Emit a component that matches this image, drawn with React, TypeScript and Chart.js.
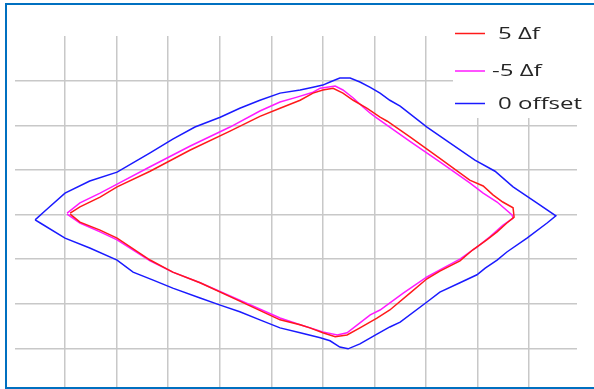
import React, { useEffect, useRef } from "react";
import { Chart, registerables } from "chart.js";

Chart.register(...registerables);

// Series labels and colours
const seriesLabels = ["5 Δf", "-5 Δf", "0 offset"];
const seriesColors = ["#ff1a1a", "#ff1aff", "#1a1aff"];

// Grid tick positions (grid units)
const xTicks = [0, 1, 2, 3, 4, 5, 6, 7, 8, 9];
const yTicks = [-3, -2, -1, 0, 1, 2, 3];

// 5 Δf (red)
const redX = [0.10, 0.29, 0.68, 1.01, 1.65, 2.42, 3.20, 3.78, 4.17, 4.56, 4.81, 5.00, 5.20, 5.39, 5.59, 5.86, 6.11, 6.25, 6.69, 7.27, 7.85, 8.11, 8.30, 8.49, 8.69, 8.71, 8.57, 8.38, 8.18, 7.91, 7.66, 7.27, 7.02, 6.69, 6.30, 6.05, 5.72, 5.47, 5.24, 5.00, 4.75, 4.56, 4.17, 3.39, 2.62, 2.09, 1.65, 1.01, 0.68, 0.29, 0.10];
const redY = [0.03, 0.17, 0.39, 0.62, 0.97, 1.44, 1.87, 2.20, 2.38, 2.56, 2.72, 2.79, 2.83, 2.72, 2.56, 2.38, 2.18, 2.09, 1.74, 1.26, 0.77, 0.64, 0.44, 0.28, 0.15, -0.06, -0.19, -0.39, -0.57, -0.79, -1.04, -1.27, -1.44, -1.76, -2.14, -2.32, -2.54, -2.70, -2.74, -2.65, -2.54, -2.47, -2.36, -1.94, -1.53, -1.29, -1.02, -0.53, -0.35, -0.17, 0.01];

// -5 Δf (magenta)
const magentaX = [0.04, 0.29, 0.68, 1.01, 1.65, 2.42, 3.20, 3.78, 4.17, 4.50, 4.81, 4.95, 5.24, 5.39, 5.59, 5.78, 5.92, 6.05, 6.69, 7.27, 7.85, 8.11, 8.38, 8.67, 8.69, 8.49, 8.24, 7.99, 7.85, 7.66, 7.27, 7.02, 6.56, 6.11, 5.92, 5.72, 5.47, 5.28, 5.00, 4.56, 4.17, 3.39, 2.62, 2.09, 1.65, 1.01, 0.68, 0.29, 0.04];
const magentaY = [0.03, 0.26, 0.48, 0.68, 1.07, 1.53, 1.96, 2.32, 2.52, 2.63, 2.74, 2.83, 2.88, 2.79, 2.61, 2.41, 2.27, 2.16, 1.64, 1.18, 0.71, 0.48, 0.28, -0.01, -0.08, -0.24, -0.50, -0.73, -0.84, -1.00, -1.24, -1.40, -1.76, -2.14, -2.25, -2.43, -2.65, -2.70, -2.63, -2.47, -2.32, -1.92, -1.53, -1.29, -1.04, -0.57, -0.39, -0.19, 0.01];

// 0 offset (blue)
const blueX = [-0.58, -0.39, 0.00, 0.48, 1.01, 1.65, 2.09, 2.52, 3.01, 3.39, 3.78, 4.17, 4.56, 4.81, 5.00, 5.14, 5.33, 5.53, 5.72, 5.92, 6.11, 6.30, 6.50, 7.02, 7.47, 7.95, 8.34, 8.69, 9.15, 9.52, 9.35, 8.96, 8.57, 8.38, 8.15, 7.99, 7.66, 7.27, 7.02, 6.50, 6.30, 6.05, 5.72, 5.49, 5.33, 5.14, 4.95, 4.56, 4.17, 3.78, 3.39, 3.01, 2.62, 2.09, 1.71, 1.32, 1.01, 0.48, 0.00, -0.48, -0.58];
const blueY = [-0.12, 0.08, 0.48, 0.75, 0.95, 1.38, 1.69, 1.96, 2.18, 2.38, 2.56, 2.72, 2.79, 2.85, 2.90, 2.97, 3.06, 3.06, 2.97, 2.85, 2.72, 2.56, 2.43, 1.96, 1.60, 1.22, 0.97, 0.62, 0.26, -0.03, -0.19, -0.53, -0.84, -1.02, -1.20, -1.35, -1.53, -1.74, -1.96, -2.41, -2.52, -2.68, -2.90, -3.01, -2.97, -2.83, -2.76, -2.65, -2.54, -2.36, -2.18, -2.03, -1.87, -1.65, -1.47, -1.29, -1.02, -0.75, -0.53, -0.19, -0.12];

const seriesX = [redX, magentaX, blueX];
const seriesY = [redY, magentaY, blueY];

const legendPlugin = {
  id: "boxLegend",
  afterDraw(chart: any) {
    const ctx = chart.ctx;
    ctx.save();
    ctx.fillStyle = "#ffffff";
    ctx.fillRect(453, 34, 141, 84);
    const rowsY = [33.5, 71, 103.5];
    const sx = 1.5;
    ctx.font = "16px 'Open Sans'";
    ctx.textBaseline = "middle";
    ctx.textAlign = "left";
    chart.data.datasets.forEach((ds: any, i: number) => {
      const y = rowsY[i];
      ctx.strokeStyle = ds.borderColor;
      ctx.lineWidth = 1.5;
      ctx.beginPath();
      ctx.moveTo(455, y);
      ctx.lineTo(485, y);
      ctx.stroke();
      const label: string = ds.label;
      const tx = label.startsWith("-") ? 492 : 498;
      ctx.save();
      ctx.translate(tx, y + 0.5);
      ctx.scale(sx, 1);
      ctx.fillStyle = "#262626";
      ctx.fillText(label, 0, 0);
      ctx.restore();
    });
    ctx.restore();
  },
};

export default function App() {
  const canvasRef = useRef<HTMLCanvasElement | null>(null);

  useEffect(() => {
    const canvas = canvasRef.current;
    if (!canvas) return;
    const datasets = seriesLabels.map((label, i) => ({
      label,
      data: seriesX[i].map((x, j) => ({ x, y: seriesY[i][j] })),
      borderColor: seriesColors[i],
      backgroundColor: seriesColors[i],
      borderWidth: 1.5,
      showLine: true,
      fill: false,
      tension: 0,
      pointRadius: 0,
      pointHoverRadius: 0,
    }));
    const chart = new Chart(canvas, {
      type: "scatter",
      data: { datasets },
      options: {
        animation: false,
        responsive: false,
        devicePixelRatio: 1,
        layout: { padding: { left: 15, right: 17, top: 36, bottom: 0 } },
        plugins: { legend: { display: false }, tooltip: { enabled: false } },
        scales: {
          x: {
            type: "linear",
            min: -0.97,
            max: 9.93,
            afterBuildTicks: (scale: any) => {
              scale.ticks = xTicks.map((v) => ({ value: v }));
            },
            ticks: { display: false },
            border: { display: false },
            grid: { color: "#c8c8c8", lineWidth: 1.5, drawTicks: false },
          },
          y: {
            type: "linear",
            min: -3.91,
            max: 4.0,
            afterBuildTicks: (scale: any) => {
              scale.ticks = yTicks.map((v) => ({ value: v }));
            },
            ticks: { display: false },
            border: { display: false },
            grid: { color: "#c8c8c8", lineWidth: 1.5, drawTicks: false },
          },
        },
      },
      plugins: [legendPlugin],
    });
    return () => chart.destroy();
  }, []);

  return (
    <div
      style={{
        position: "fixed",
        left: 0,
        top: 0,
        width: 594,
        height: 389,
        overflow: "hidden",
        background: "#ffffff",
      }}
    >
      <canvas ref={canvasRef} width={594} height={389} style={{ position: "absolute", left: 0, top: 0 }} />
      <div
        style={{
          position: "absolute",
          left: 5,
          top: 3,
          width: 600,
          height: 386,
          boxSizing: "border-box",
          border: "2px solid #0070c0",
          borderRight: "none",
          pointerEvents: "none",
        }}
      />
    </div>
  );
}
